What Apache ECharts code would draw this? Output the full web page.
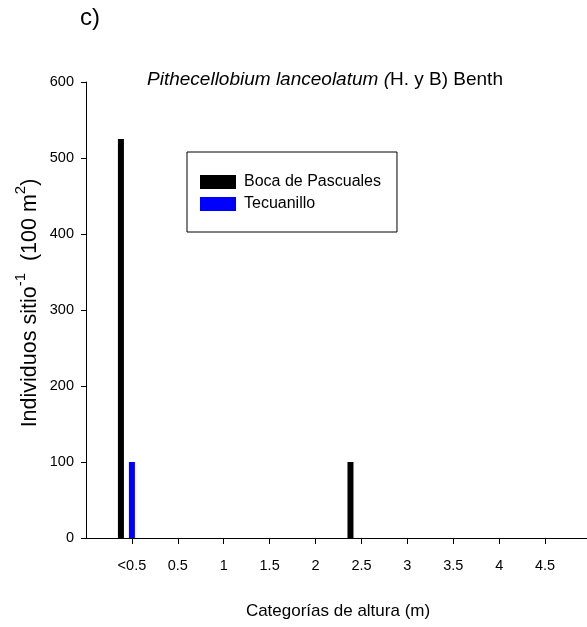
<!DOCTYPE html>
<html>
<head>
<meta charset="utf-8">
<script src="https://cdn.jsdelivr.net/npm/echarts@6/dist/echarts.min.js"></script>
<style>
html,body{margin:0;padding:0;background:#fff;}
#chart{width:587px;height:627px;}
</style>
</head>
<body>
<div id="chart"></div>
<script>
var categories = ['<0.5', '0.5', '1', '1.5', '2', '2.5', '3', '3.5', '4', '4.5'];
var bocaDePascuales = [525, 0, 0, 0, 0, 100, 0, 0, 0, 0];
var tecuanillo = [100, 0, 0, 0, 0, 0, 0, 0, 0, 0];
var yTicks = [0, 100, 200, 300, 400, 500, 600];

var FONT = "'Liberation Sans', Arial, sans-serif";

// pad the category axis with one empty slot on each side
var axisCats = [''].concat(categories, ['']);
function pad(arr) { return [null].concat(arr, [null]); }
var spacer = axisCats.map(function () { return null; });

var chart = echarts.init(document.getElementById('chart'), null, {renderer: 'canvas'});
chart.setOption({
  animation: false,
  backgroundColor: '#fff',
  grid: {left: 86, width: 505, top: 82, bottom: 89, containLabel: false, outerBoundsMode: 'none'},
  xAxis: {
    type: 'category',
    data: axisCats,
    boundaryGap: false,
    axisLine: {show: true, lineStyle: {color: '#000', width: 1}},
    axisTick: {show: true, length: 6, lineStyle: {color: '#000'},
      interval: function (i) { return i > 0 && i < axisCats.length - 1; }},
    axisLabel: {interval: 0, margin: 20, color: '#000', fontSize: 14.5, fontFamily: FONT},
    splitLine: {show: false}
  },
  yAxis: {
    type: 'value',
    min: yTicks[0],
    max: yTicks[yTicks.length - 1],
    interval: 100,
    axisLine: {show: true, lineStyle: {color: '#000', width: 1}},
    axisTick: {show: true, length: 5, lineStyle: {color: '#000'}},
    axisLabel: {margin: 12, color: '#000', fontSize: 14.5, fontFamily: FONT},
    splitLine: {show: false}
  },
  legend: {
    data: ['Boca de Pascuales', 'Tecuanillo'],
    orient: 'vertical',
    left: 187,
    top: 152,
    padding: [22, 16, 20, 13],
    itemWidth: 36,
    itemHeight: 14,
    itemGap: 6,
    icon: 'rect',
    borderColor: '#000',
    borderWidth: 1,
    borderRadius: 0,
    textStyle: {color: '#000', fontSize: 16, fontFamily: FONT, padding: [0, 0, 0, 3]}
  },
  series: [
    {name: 'Boca de Pascuales', type: 'bar', data: pad(bocaDePascuales), barWidth: 6, barGap: '83%',
      itemStyle: {color: '#000'}},
    {name: 'Tecuanillo', type: 'bar', data: pad(tecuanillo), barWidth: 6, barGap: '83%',
      itemStyle: {color: '#0000ff'}},
    {name: 'spacer', type: 'bar', data: spacer, barWidth: 6, barGap: '83%',
      itemStyle: {color: 'rgba(0,0,0,0)'}, silent: true}
  ],
  graphic: [
    {type: 'text', left: 80, top: 6, style: {text: 'c)', fontSize: 24, fontFamily: FONT, fill: '#000'}},
    {type: 'text', x: 325, y: 80, style: {
      text: '{i|Pithecellobium lanceolatum (}{n|H. y B) Benth}',
      align: 'center', verticalAlign: 'middle',
      rich: {
        i: {fontSize: 19, fontStyle: 'italic', fontFamily: FONT, fill: '#000'},
        n: {fontSize: 19, fontFamily: FONT, fill: '#000'}
      }}},
    {type: 'text', x: 338, y: 611, style: {
      text: 'Categorías de altura (m)', align: 'center', verticalAlign: 'middle',
      fontSize: 17, fontFamily: FONT, fill: '#000'}},
    {type: 'text', x: 27, y: 303, rotation: Math.PI / 2, style: {
      text: '{a|Individuos sitio}{s|-1}{a|  (100 m}{s|2}{a|)}',
      align: 'center', verticalAlign: 'middle',
      rich: {
        a: {fontSize: 21.5, fontFamily: FONT, fill: '#000', lineHeight: 28, verticalAlign: 'bottom'},
        s: {fontSize: 15, fontFamily: FONT, fill: '#000', lineHeight: 28, verticalAlign: 'top'}
      }}}
  ]
});
</script>
</body>
</html>
